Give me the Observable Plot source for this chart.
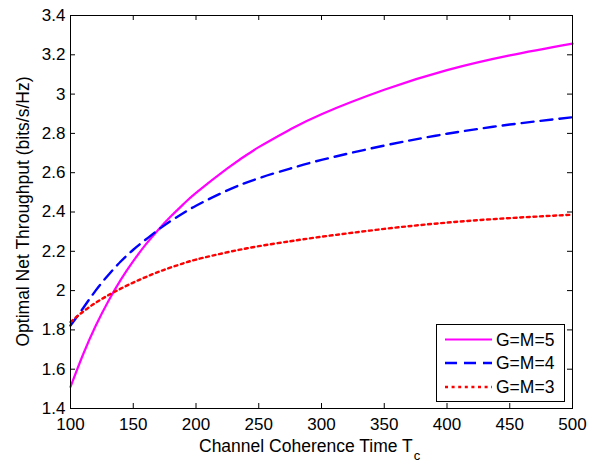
<!DOCTYPE html>
<html><head><meta charset="utf-8">
<script src="https://cdn.jsdelivr.net/npm/d3@7"></script>
<script src="https://cdn.jsdelivr.net/npm/@observablehq/plot@0.6"></script>
<style>html,body{margin:0;padding:0;background:#fff} svg{display:block}</style>
</head><body><div id="chart"></div>
<script>
// ---- data ----
const Tc  = [100,110,120,130,140,150,160,170,180,190,200,225,250,275,300,350,400,450,500];
const gm5 = [1.51,1.675,1.82,1.945,2.055,2.15,2.235,2.31,2.378,2.44,2.497,2.622,2.73,2.82,2.898,3.022,3.122,3.197,3.257];
const gm4 = [1.822,1.91,2.00,2.078,2.148,2.208,2.26,2.31,2.355,2.395,2.432,2.51,2.572,2.621,2.665,2.738,2.798,2.845,2.882];
const gm3 = [1.84,1.893,1.938,1.976,2.01,2.041,2.069,2.095,2.118,2.139,2.158,2.195,2.226,2.251,2.274,2.314,2.346,2.369,2.386];
const seriesNames = ["G=M=5","G=M=4","G=M=3"];
const xTicks = [100,150,200,250,300,350,400,450,500];
const yTicks = [1.4,1.6,1.8,2.0,2.2,2.4,2.6,2.8,3.0,3.2,3.4];
const yTickLabels = ["1.4","1.6","1.8","2","2.2","2.4","2.6","2.8","3","3.2","3.4"];
const xLabel = "Channel Coherence Time T";
const xLabelSub = "c";
const yLabel = "Optimal Net Throughput (bits/s/Hz)";

// ---- styles ----
const styles = [
  {stroke:"#ff00ff", dash:null, width:2.2},
  {stroke:"#0000ff", dash:"12,7", width:2.4},
  {stroke:"#ff0000", dash:"3,3.6", width:2.4}
];
const W = 605, H = 462, mL = 70, mR = 33, mT = 15, mB = 54;
const pW = W - mL - mR, pH = H - mT - mB;
const font = "'Liberation Sans', Arial, Helvetica, sans-serif";
const tickFont = 17, labelFont = 17.5, legendFont = 17.5;

const seriesValues = [gm5, gm4, gm3];
const rows = seriesValues.map((vals, s) => Tc.map((t, i) => ({Tc: t, value: vals[i], series: seriesNames[s]})));

const svg = Plot.plot({
  width: W, height: H,
  marginLeft: mL, marginRight: mR, marginTop: mT, marginBottom: mB,
  style: {fontFamily: font, fontSize: tickFont + "px", background: "#fff", color: "#000"},
  x: {domain: [100, 500]},
  y: {domain: [1.4, 3.4]},
  marks: [
    Plot.ruleX(xTicks, {x: d => d, insetTop: pH - 5, stroke: "#000"}),
    Plot.ruleX(xTicks, {x: d => d, insetBottom: pH - 5, stroke: "#000"}),
    Plot.ruleY(yTicks, {y: d => d, insetRight: pW - 5, stroke: "#000"}),
    Plot.ruleY(yTicks, {y: d => d, insetLeft: pW - 5, stroke: "#000"}),
    ...rows.map((r, s) => Plot.line(r, {x: "Tc", y: "value", curve: "natural",
      stroke: styles[s].stroke, strokeWidth: styles[s].width, strokeDasharray: styles[s].dash})),
    Plot.frame({stroke: "#000", strokeWidth: 1}),
    Plot.axisX({ticks: xTicks, tickSize: 0, tickPadding: 9, label: null, fontSize: tickFont}),
    Plot.axisY({ticks: yTicks, tickSize: 0, tickPadding: 5, label: null, fontSize: tickFont,
      tickFormat: d => yTickLabels[yTicks.indexOf(d)]})
  ]
});

const g = d3.select(svg);
// x label with subscript
const xl = g.append("text").attr("x", 199).attr("y", 451.5).attr("text-anchor", "start")
  .attr("font-family", font).attr("font-size", labelFont).attr("fill", "#000");
xl.append("tspan").text(xLabel);
xl.append("tspan").attr("font-size", 13).attr("dx", 1).attr("dy", 8).text(xLabelSub);
// y label
g.append("text").attr("transform", `translate(28.5,${mT + pH/2}) rotate(-90)`)
  .attr("text-anchor", "middle").attr("font-family", font).attr("font-size", labelFont)
  .attr("fill", "#000").text(yLabel);
// legend
const lg = g.append("g");
lg.append("rect").attr("x", 436.5).attr("y", 324.5).attr("width", 128).attr("height", 77)
  .attr("fill", "#fff").attr("stroke", "#000");
const rowY = [339.5, 363, 387];
seriesNames.forEach((n, i) => {
  lg.append("line").attr("x1", 445).attr("x2", 492).attr("y1", rowY[i]).attr("y2", rowY[i])
    .attr("stroke", styles[i].stroke).attr("stroke-width", styles[i].width)
    .attr("stroke-dasharray", styles[i].dash);
  lg.append("text").attr("x", 496).attr("y", rowY[i] + 6.3).attr("text-anchor", "start")
    .attr("font-family", font).attr("font-size", legendFont).attr("fill", "#000").text(n);
});
document.getElementById("chart").appendChild(svg);
</script>
</body></html>
